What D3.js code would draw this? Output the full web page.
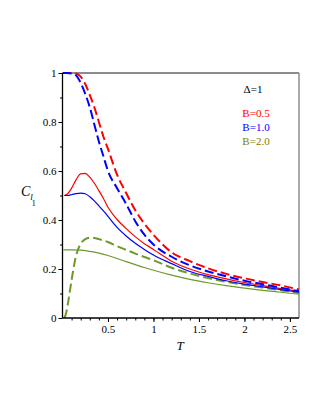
<!DOCTYPE html>
<html>
<head>
<meta charset="utf-8">
<script src="https://cdn.jsdelivr.net/npm/d3@7"></script>
<style>
  body { margin: 0; background: #fff; }
  svg text { font-family: "Liberation Serif", "DejaVu Serif", serif; }
</style>
</head>
<body>
<svg id="plot" width="323" height="418"></svg>
<script>
// temperatures and C_l1 values
var tDashRB = [0, 0.05, 0.1, 0.15, 0.2, 0.25, 0.3, 0.35, 0.4, 0.45, 0.5, 0.6, 0.7, 0.8, 0.9, 1.0, 1.2, 1.4, 1.6, 1.8, 2.0, 2.2, 2.4, 2.6];
var redDashed  = [1, 1, 1, 0.998, 0.985, 0.955, 0.91, 0.86, 0.80, 0.74, 0.69, 0.585, 0.51, 0.44, 0.385, 0.34, 0.268, 0.232, 0.203, 0.180, 0.162, 0.147, 0.133, 0.116];
var blueDashed = [1, 1, 0.998, 0.99, 0.96, 0.915, 0.86, 0.79, 0.72, 0.66, 0.60, 0.53, 0.465, 0.395, 0.34, 0.30, 0.25, 0.215, 0.19, 0.17, 0.152, 0.138, 0.124, 0.109];

var tSolidRB = [0.02, 0.05, 0.1, 0.15, 0.2, 0.25, 0.3, 0.35, 0.4, 0.45, 0.5, 0.6, 0.7, 0.8, 0.9, 1.0, 1.2, 1.4, 1.6, 1.8, 2.0, 2.2, 2.4, 2.6];
var redSolid  = [0.5, 0.505, 0.53, 0.565, 0.588, 0.59, 0.575, 0.55, 0.52, 0.488, 0.452, 0.402, 0.365, 0.332, 0.303, 0.28, 0.232, 0.2, 0.177, 0.16, 0.145, 0.132, 0.12, 0.109];
var blueSolid = [0.5, 0.5, 0.503, 0.508, 0.51, 0.507, 0.495, 0.478, 0.458, 0.437, 0.415, 0.37, 0.335, 0.305, 0.28, 0.257, 0.222, 0.19, 0.17, 0.152, 0.138, 0.127, 0.116, 0.105];

var tGreenDash = [0.02, 0.04, 0.06, 0.08, 0.1, 0.12, 0.14, 0.16, 0.2, 0.25, 0.3, 0.35, 0.4, 0.5, 0.6, 0.7, 0.8, 0.9, 1.0, 1.2, 1.4, 1.6, 1.8, 2.0, 2.2, 2.4, 2.6];
var greenDashed = [0, 0.02, 0.06, 0.107, 0.155, 0.2, 0.24, 0.268, 0.303, 0.322, 0.328, 0.327, 0.322, 0.31, 0.293, 0.278, 0.263, 0.249, 0.236, 0.205, 0.182, 0.163, 0.148, 0.135, 0.124, 0.113, 0.102];

var tGreenSolid = [0.01, 0.1, 0.2, 0.3, 0.4, 0.5, 0.6, 0.7, 0.8, 0.9, 1.0, 1.2, 1.4, 1.6, 1.8, 2.0, 2.2, 2.4, 2.6];
var greenSolid = [0.278, 0.278, 0.277, 0.272, 0.265, 0.255, 0.243, 0.23, 0.218, 0.206, 0.195, 0.175, 0.158, 0.144, 0.132, 0.122, 0.113, 0.105, 0.097];

var xTicks = [0.5, 1, 1.5, 2, 2.5];
var yTicks = [0, 0.2, 0.4, 0.6, 0.8, 1];
var legendLabels = ["B=0.5", "B=1.0", "B=2.0"];
var legendColors = ["#ff0000", "#0000ff", "#808000"];

var svg = d3.select("#plot");
var pLeft = 62.5, pRight = 299, pTop = 73, pBottom = 318;

var x = d3.scaleLinear().domain([0, 2.6]).range([pLeft, pRight]);
var y = d3.scaleLinear().domain([0, 1]).range([pBottom, pTop]);

//frame: grey on top and right
svg.append("line").attr("x1", pLeft).attr("x2", pRight).attr("y1", pTop).attr("y2", pTop)
    .style("stroke", "#8c8c8c").style("stroke-width", 2);
svg.append("line").attr("x1", pRight).attr("x2", pRight).attr("y1", pTop).attr("y2", pBottom)
    .style("stroke", "#8c8c8c").style("stroke-width", 1.5);

//curves
var line = d3.line()
    .x(function(d) { return x(d[0]); })
    .y(function(d) { return y(d[1]); })
    .curve(d3.curveMonotoneX);

function pairs(ts, vs) { return ts.map(function(t, i) { return [t, vs[i]]; }); }

var series = [
  {pts: pairs(tGreenSolid, greenSolid), color: "#6e9a2c", dash: null},
  {pts: pairs(tGreenDash, greenDashed), color: "#6e9a2c", dash: "9,4"},
  {pts: pairs(tSolidRB, redSolid), color: "#ff0000", dash: null},
  {pts: pairs(tSolidRB, blueSolid), color: "#0000ff", dash: null},
  {pts: pairs(tDashRB, redDashed), color: "#ff0000", dash: "9,4"},
  {pts: pairs(tDashRB, blueDashed), color: "#0000ff", dash: "9,4"}
];

svg.append("defs").append("clipPath").attr("id", "clip")
    .append("rect").attr("x", pLeft).attr("y", pTop - 3).attr("width", pRight - pLeft).attr("height", pBottom - pTop + 3);

svg.append("g").attr("clip-path", "url(#clip)")
    .selectAll("path")
    .data(series)
    .enter()
    .append("path")
    .attr("d", function(d) { return line(d.pts); })
    .style("fill", "none")
    .style("stroke", function(d) { return d.color; })
    .style("stroke-width", function(d) { return d.dash ? 2 : 1.2; })
    .style("stroke-dasharray", function(d) { return d.dash; });

//x axis, minor ticks then major ticks with labels
var xAxis = svg.append("g")
    .attr("transform", "translate(0," + pBottom + ")")
    .call(d3.axisBottom(x).tickValues(d3.range(1, 26).map(function(i) { return i / 10; })).tickSize(2.5).tickFormat(""));
xAxis.select(".domain").attr("d", "M" + pLeft + ",0H" + pRight).style("stroke-width", 1.3);
var xMajor = svg.append("g").attr("transform", "translate(0," + pBottom + ")")
    .attr("font-family", "Liberation Serif")
    .call(d3.axisBottom(x).tickValues(xTicks).tickSize(4).tickFormat(d3.format("")));
xMajor.attr("font-family", "Liberation Serif");
xMajor.select(".domain").remove();
xMajor.selectAll("text").attr("dy", 0).attr("y", 15)
    .style("font-size", "11px").style("font-family", "Liberation Serif");

//y axis
var yAxis = svg.append("g")
    .attr("transform", "translate(" + pLeft + ",0)")
    .call(d3.axisLeft(y).tickValues(d3.range(1, 10).map(function(i) { return i / 10; })).tickSize(2.5).tickFormat(""));
yAxis.select(".domain").attr("d", "M0," + pTop + "V" + pBottom).style("stroke-width", 1.3);
var yMajor = svg.append("g").attr("transform", "translate(" + pLeft + ",0)")
    .call(d3.axisLeft(y).tickValues(yTicks).tickSize(4).tickFormat(d3.format("")));
yMajor.attr("font-family", "Liberation Serif");
yMajor.select(".domain").remove();
yMajor.selectAll("text").attr("x", -6).attr("dy", "0.35em")
    .style("font-size", "11px").style("font-family", "Liberation Serif");

//axis titles
svg.append("text")
    .attr("x", 180).attr("y", 350)
    .attr("text-anchor", "middle")
    .style("font-size", "13px").style("font-style", "italic")
    .text("T");

var ylab = svg.append("text").attr("x", 21).attr("y", 196)
    .style("font-size", "14px").style("font-style", "italic");
ylab.append("tspan").text("C");
ylab.append("tspan").attr("dy", 4).style("font-size", "9px").text("l");
ylab.append("tspan").attr("dy", 6).attr("dx", -1).style("font-size", "8px").style("font-style", "normal").text("1");

//legend
svg.append("text")
    .attr("x", 253).attr("y", 93)
    .attr("text-anchor", "middle")
    .style("font-size", "11px")
    .text("\u0394=1");

svg.selectAll(".leg")
    .data(legendLabels)
    .enter()
    .append("text")
    .attr("class", "leg")
    .attr("x", 256)
    .attr("y", function(d, i) { return 117 + i * 14; })
    .attr("text-anchor", "middle")
    .style("font-size", "11px")
    .style("fill", function(d, i) { return legendColors[i]; })
    .text(function(d) { return d; });
</script>
</body>
</html>
